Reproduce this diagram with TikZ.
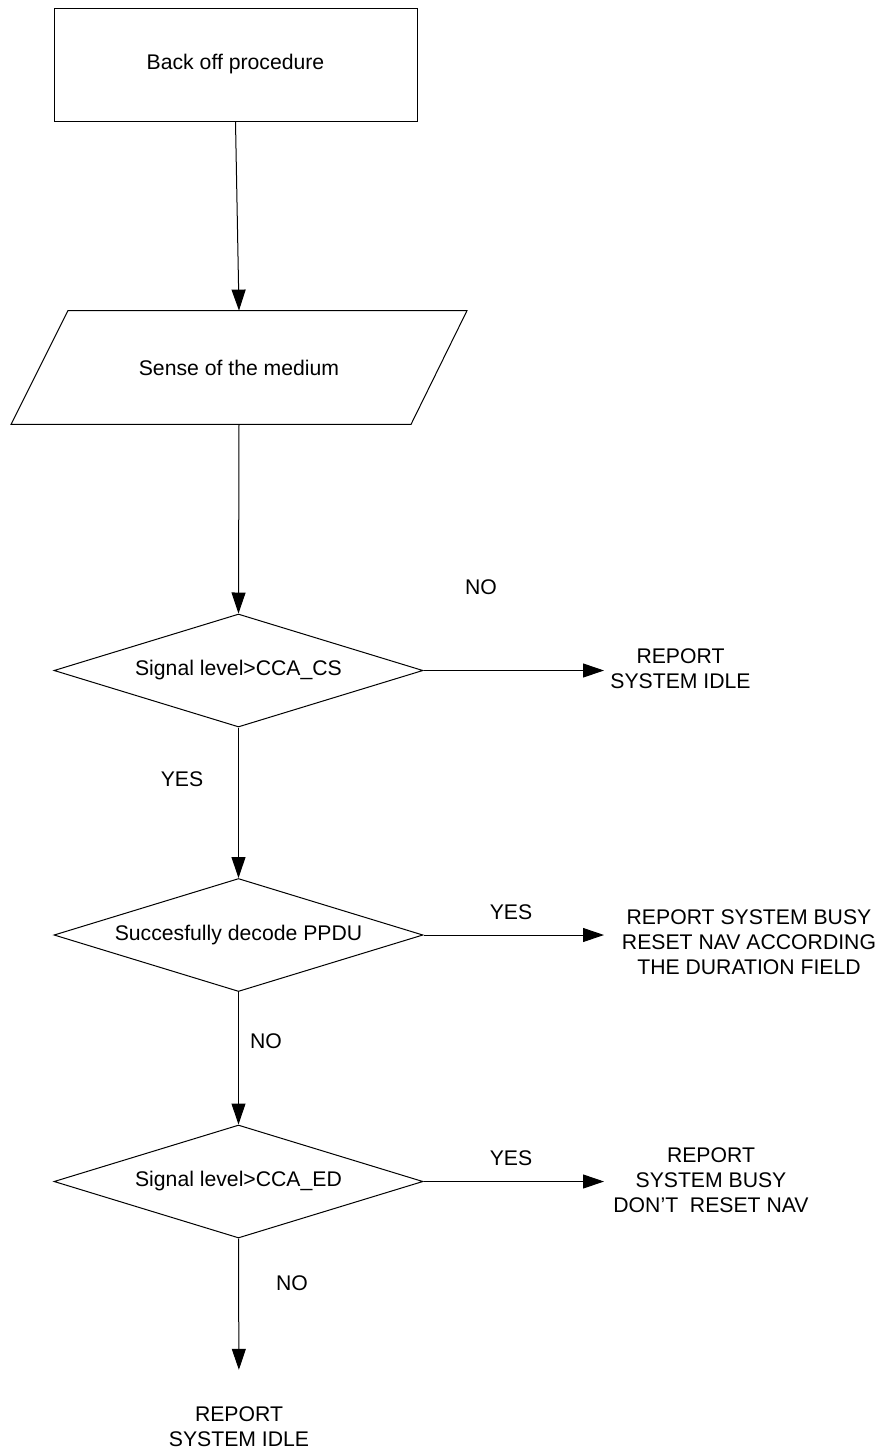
\documentclass[tikz,border=0pt]{standalone}
\usepackage{fontspec}
\setmainfont{Liberation Sans}
\usetikzlibrary{arrows.meta,shapes.geometric,calc}
\begin{document}
\begin{tikzpicture}[x=0.5pt,y=-0.5pt,
  every node/.style={font=\fontsize{10.6pt}{12.5pt}\selectfont, inner sep=0pt},
  line/.style={line width=0.5pt, draw=black},
  arr/.style={line, -{Triangle[length=10.5pt,width=7pt]}},
  procbox/.style={draw, line width=0.5pt, minimum width=181.5pt, minimum height=56.5pt},
  iobody/.style={minimum width=200pt, minimum height=56.5pt},
  decision/.style={diamond, draw, line width=0.5pt, shape aspect=3.27,
    minimum width=184.5pt, minimum height=56.5pt, inner sep=0pt},
  outtext/.style={align=center}
]
\useasboundingbox (0,0) rectangle (881,1452);

% process and input steps
\node[procbox] (start) at (235.5,64.5) {Back off procedure};
\node[iobody] (sense) at (239,367.5) {Sense of the medium};
\draw[line] ($(sense.north)+(-171,0)$) -- ($(sense.north)+(228,0)$)
  -- ($(sense.south)+(172,0)$) -- ($(sense.south)+(-228,0)$) -- cycle;

% decisions
\node[decision] (d1) at (238.5,670.5) {Signal level>CCA\_CS};
\node[decision] (d2) at (238.5,935) {Succesfully decode PPDU};
\node[decision] (d3) at (238.5,1181.5) {Signal level>CCA\_ED};

% outcomes
\node[outtext] (idle1) at (680.5,669) {REPORT\\SYSTEM IDLE};
\node[outtext] (busy1) at (749,942) {REPORT SYSTEM BUSY\\RESET NAV ACCORDING\\THE DURATION FIELD};
\node[outtext] (busy2) at (711,1180.5) {REPORT\\SYSTEM BUSY\\DON’T\ \ RESET NAV};
\node[outtext] (idle2) at (239,1427) {REPORT\\SYSTEM IDLE};

% branch labels
\node (no1) at (481,587) {NO};
\node (yes1) at (182,779) {YES};
\node (yes2) at (511,912) {YES};
\node (no2) at (266,1041) {NO};
\node (yes3) at (511,1158) {YES};
\node (no3) at (292,1283) {NO};

% common end of the side arrows
\coordinate (tipx) at (604,0);

% connectors
\draw[arr] (start.south) -- (sense.north);
\draw[arr] (sense.south) -- (d1.north);
\draw[arr] (d1.east) -- (d1.east -| tipx);
\draw[arr] (d1.south) -- (d2.north);
\draw[arr] (d2.east) -- (d2.east -| tipx);
\draw[arr] (d2.south) -- (d3.north);
\draw[arr] (d3.east) -- (d3.east -| tipx);
\draw[arr, shorten >=18.4pt] (d3.south) -- (idle2.north);
\end{tikzpicture}
\end{document}
